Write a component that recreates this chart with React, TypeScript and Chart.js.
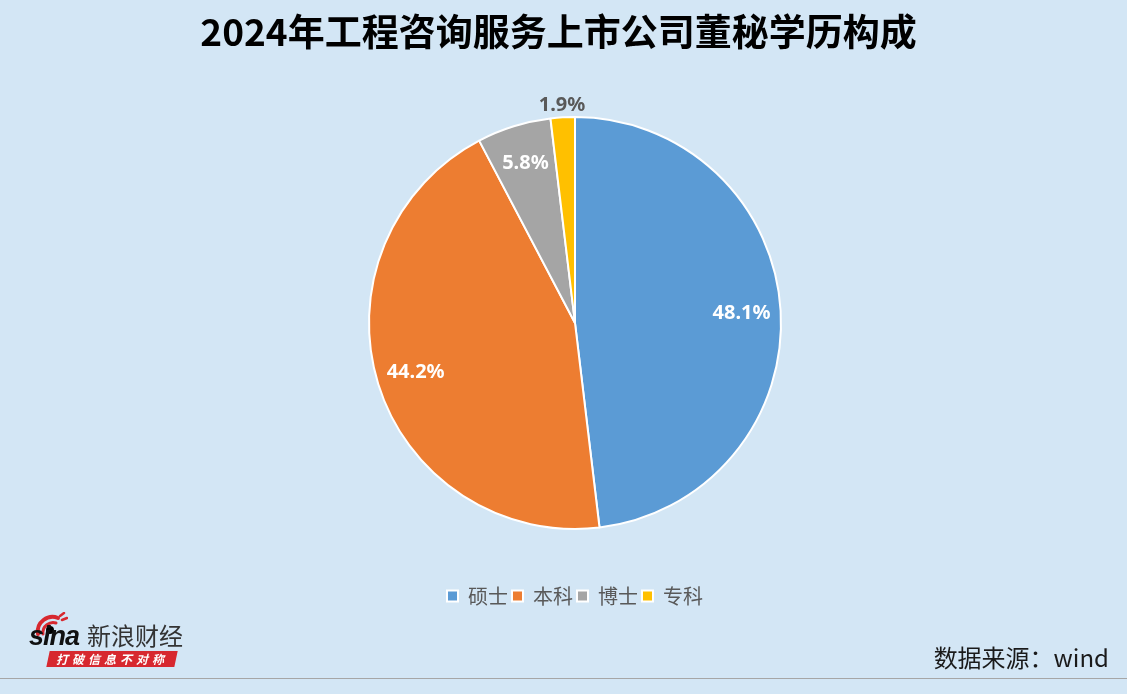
import { useEffect, useRef } from "react";
import { Chart, registerables } from "chart.js";

Chart.register(...registerables);

const titleText = "2024年工程咨询服务上市公司董秘学历构成";
const categories = ["硕士", "本科", "博士", "专科"];
const shares = [48.1, 44.2, 5.8, 1.9];
const sliceColors = ["#5B9BD5", "#ED7D31", "#A5A5A5", "#FFC000"];
const sourceText = "数据来源：wind";
const brandName = "新浪财经";
const brandSlogan = "打破信息不对称";

const BG = "#D3E6F5";

const sliceLabelPlugin = {
  id: "sliceLabels",
  afterDatasetsDraw(chart: any) {
    const meta = chart.getDatasetMeta(0);
    const ctx = chart.ctx;
    ctx.save();
    ctx.font = "bold 20px 'Noto Sans', 'DejaVu Sans', sans-serif";
    ctx.textAlign = "center";
    ctx.textBaseline = "middle";
    meta.data.forEach((arc: any, i: number) => {
      const p = arc.getProps(["x", "y", "startAngle", "endAngle", "outerRadius"], true);
      const mid = (p.startAngle + p.endAngle) / 2;
      const outside = shares[i] < 3;
      const dist = outside ? p.outerRadius + 12 : p.outerRadius * 0.81;
      const lx = p.x + Math.cos(mid) * dist;
      const ly = p.y + Math.sin(mid) * dist;
      ctx.fillStyle = outside ? "#595959" : "#FFFFFF";
      ctx.fillText(shares[i].toFixed(1) + "%", lx, ly);
    });
    ctx.restore();
  },
};

export default function App() {
  const canvasRef = useRef<HTMLCanvasElement | null>(null);

  useEffect(() => {
    if (!canvasRef.current) return;
    const chart = new Chart(canvasRef.current, {
      type: "pie",
      data: {
        labels: categories,
        datasets: [
          {
            data: shares,
            backgroundColor: sliceColors,
            borderColor: "#FFFFFF",
            borderWidth: 2,
            radius: 206,
          } as any,
        ],
      },
      options: {
        responsive: false,
        animation: false,
        devicePixelRatio: 1,
        events: [],
        layout: { padding: { left: 23, right: 0, top: 64, bottom: 78 } },
        plugins: {
          title: { display: false },
          legend: {
            display: true,
            position: "bottom",
            labels: {
              boxWidth: 11,
              boxHeight: 11,
              padding: 4,
              color: "#595959",
              font: { size: 20, family: "'Noto Sans CJK SC', sans-serif" },
            },
          },
          tooltip: { enabled: false },
        },
      } as any,
      plugins: [sliceLabelPlugin],
    });
    return () => chart.destroy();
  }, []);

  return (
    <div
      style={{
        position: "fixed",
        left: 0,
        top: 0,
        width: 1127,
        height: 694,
        background: BG,
        overflow: "hidden",
        fontFamily: "'Noto Sans CJK SC', sans-serif",
      }}
    >
      <canvas ref={canvasRef} width={1127} height={694} style={{ position: "absolute", left: 0, top: 0 }} />
      {/* title */}
      <div
        style={{
          position: "absolute",
          left: 0,
          top: 8,
          width: 1117,
          textAlign: "center",
          fontSize: 37,
          fontWeight: "bold",
          lineHeight: "44px",
          color: "#000",
          whiteSpace: "nowrap",
        }}
      >
        {titleText}
      </div>
      {/* bottom rule */}
      <div style={{ position: "absolute", left: 0, top: 678, width: 1127, height: 1, background: "#A6A6A6" }} />
      {/* source */}
      <div
        style={{
          position: "absolute",
          right: 18,
          top: 641,
          fontSize: 24,
          lineHeight: "32px",
          color: "#1A1A1A",
          whiteSpace: "nowrap",
        }}
      >
        {sourceText}
      </div>
      {/* brand logo */}
      <svg style={{ position: "absolute", left: 34, top: 612 }} width={34} height={26} viewBox="0 0 34 26">
        <path d="M4 22 C2 10, 14 2, 24 6" stroke="#D7282F" strokeWidth={4} fill="none" strokeLinecap="round" />
        <path d="M9 22 C8 14, 16 9, 22 11" stroke="#D7282F" strokeWidth={3} fill="none" strokeLinecap="round" />
        <path d="M26 4 L30 1 M28 8 L33 6" stroke="#D7282F" strokeWidth={2.5} strokeLinecap="round" />
        <circle cx={16} cy={18} r={4} fill="#000" />
      </svg>
      <div
        style={{
          position: "absolute",
          left: 29,
          top: 620,
          fontFamily: "'Liberation Sans', Arial, sans-serif",
          fontWeight: "bold",
          fontStyle: "italic",
          fontSize: 27,
          lineHeight: "32px",
          letterSpacing: -1,
          color: "#111",
        }}
      >
        sina
      </div>
      <div
        style={{
          position: "absolute",
          left: 87,
          top: 621,
          fontSize: 24,
          lineHeight: "28px",
          color: "#333",
          whiteSpace: "nowrap",
        }}
      >
        {brandName}
      </div>
      <div
        style={{
          position: "absolute",
          left: 48,
          top: 651,
          width: 128,
          height: 16,
          background: "#D7282F",
          transform: "skewX(-12deg)",
        }}
      />
      <div
        style={{
          position: "absolute",
          left: 56,
          top: 651,
          height: 16,
          lineHeight: "16px",
          fontSize: 12,
          fontWeight: "bold",
          fontStyle: "italic",
          color: "#FFFFFF",
          letterSpacing: 4,
          whiteSpace: "nowrap",
        }}
      >
        {brandSlogan}
      </div>
    </div>
  );
}
